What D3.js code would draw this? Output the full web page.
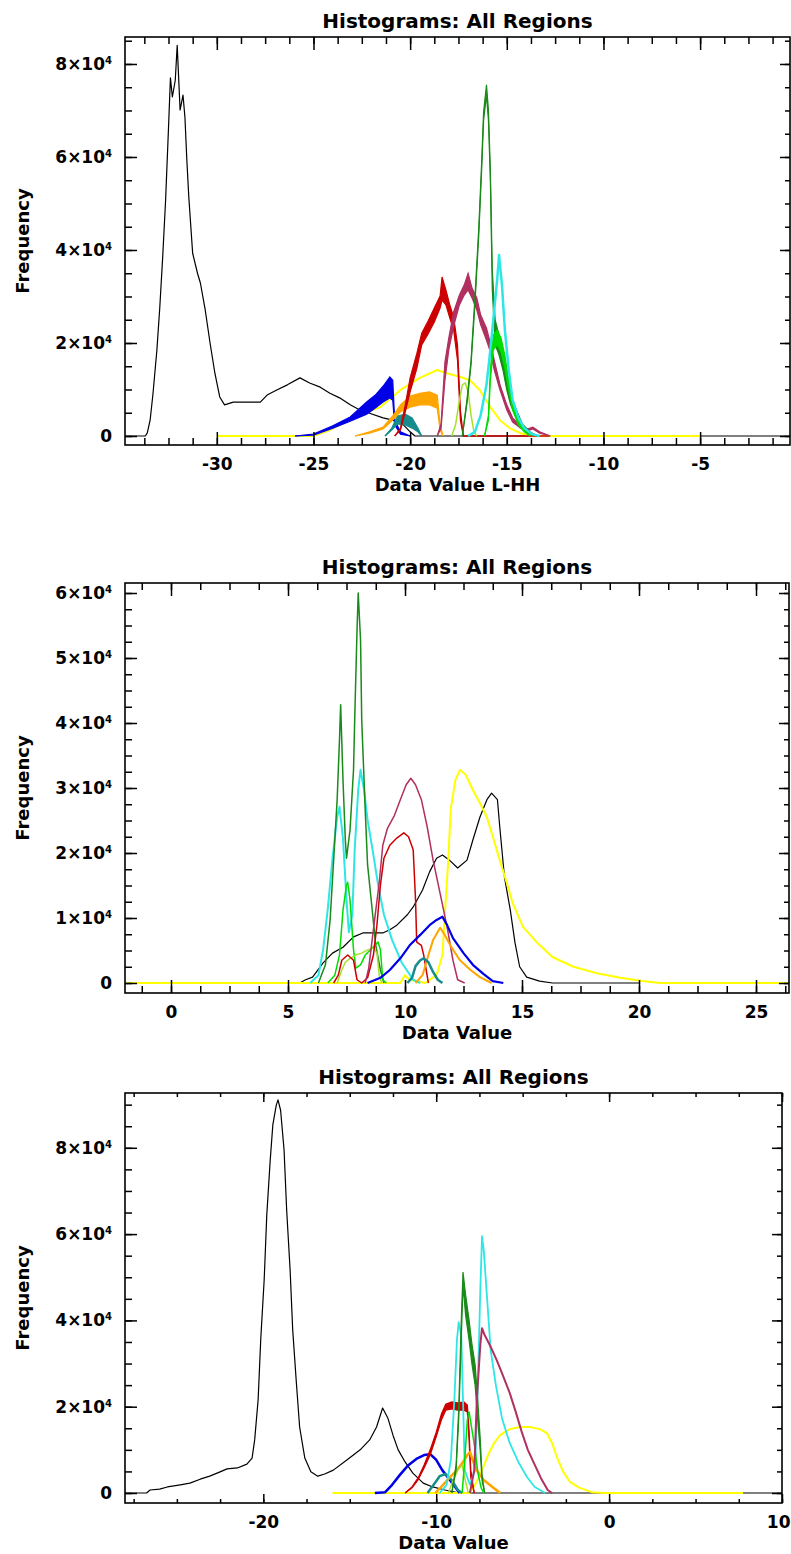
<!DOCTYPE html>
<html>
<head>
<meta charset="utf-8">
<script src="https://cdn.jsdelivr.net/npm/d3@7"></script>
<style>
  body { margin: 0; background: #fff; }
  svg text { font-family: "DejaVu Sans", sans-serif; font-weight: bold; }
</style>
</head>
<body>
<div id="chart"></div>
<script>
// ---------- panel 1 : L-HH ----------
const p1Black = [[-34.75,0],[-33.7,0],[-33.6,600],[-33.45,3400],[-33.3,9200],[-33.1,18500],[-32.95,27700],[-32.8,38500],[-32.65,50700],[-32.5,66200],[-32.4,77000],[-32.3,72900],[-32.15,76500],[-32.05,84000],[-31.9,70100],[-31.75,73300],[-31.65,68600],[-31.55,59300],[-31.45,51400],[-31.25,39300],[-31.0,35000],[-30.85,32900],[-30.6,27100],[-30.35,20000],[-30.1,13500],[-29.85,8400],[-29.6,6700],[-29.15,7300],[-28.3,7300],[-27.75,7300],[-27.4,8800],[-26.9,9900],[-26.35,11000],[-25.7,12500],[-25.2,11400],[-24.65,10500],[-24.15,9200],[-23.65,8200],[-23.1,6700],[-22.6,5600],[-22.1,4900],[-21.4,3900],[-20.9,3400],[-20.35,2400],[-20.0,900],[-19.75,0],[-0.35,0]];
const p1Yellow = [[-30,0],[-25,0],[-24.15,1300],[-23.35,3000],[-22.6,4500],[-21.55,6200],[-20.5,9900],[-19.5,12500],[-18.6,14200],[-18.1,13500],[-17.4,12700],[-16.9,12000],[-16.4,9900],[-15.85,6200],[-15.35,3400],[-14.85,1700],[-14.3,600],[-13.65,0],[-5,0]];
// bands: [x, low, high]
const p1Blue = [[-25.95,0,0],[-25.0,200,400],[-24.0,1700,2200],[-23.1,3200,4100],[-22.25,4700,7300],[-21.8,6000,8800],[-21.4,7300,10700],[-21.05,8200,12700],[-20.9,7700,12000],[-20.8,2400,3400],[-20.5,400,900],[-20.0,0,0]];
const p1Teal = [[-21.3,0,0],[-20.95,1300,1700],[-20.65,2600,4300],[-20.25,2400,4700],[-19.9,1700,3900],[-19.6,900,1700],[-19.4,0,0]];
const p1Orange = [[-22.85,0,0],[-22.1,600,900],[-21.4,1500,1900],[-20.9,3400,4300],[-20.5,5200,6700],[-20.0,6200,8600],[-19.5,6700,9200],[-19.0,6700,9500],[-18.6,6000,8800],[-18.45,1300,2400],[-18.3,0,0]];
const p1Red = [[-20.8,0,0],[-20.5,1300,1700],[-20.25,5200,6700],[-20.0,9500,12500],[-19.65,14600,17800],[-19.4,19600,22100],[-19.05,22100,24900],[-18.75,24500,27500],[-18.45,27500,30100],[-18.35,29200,34200],[-18.15,28200,31400],[-17.95,25400,28200],[-17.75,22800,25600],[-17.55,16300,19600],[-17.4,3400,5600],[-17.25,0,0],[-12.8,0,0]];
const p1Maroon = [[-18.6,0,0],[-18.4,1700,2600],[-18.2,12000,15900],[-18.0,18500,21100],[-17.75,23600,26700],[-17.45,28200,30300],[-17.2,30300,32500],[-17.0,31400,35000],[-16.8,29700,31800],[-16.55,27100,29700],[-16.35,23900,26000],[-16.05,20600,23200],[-15.85,18100,20000],[-15.65,14200,16300],[-15.35,9900,11000],[-15.0,5600,6700],[-14.7,3000,3900],[-14.3,1700,2200],[-13.95,1100,1500],[-13.65,1500,1900],[-13.3,600,900],[-12.75,0,0]];
const p1YellowGreen = [[-17.85,0],[-17.65,2400],[-17.45,7700],[-17.3,11000],[-17.15,11400],[-17.0,9500],[-16.85,4500],[-16.7,900],[-16.55,0]];
const p1DarkGreen = [[-17.3,0,0],[-17.05,7300,8200],[-16.85,15300,16300],[-16.65,28200,29700],[-16.45,43200,44700],[-16.3,57200,58900],[-16.2,67900,69700],[-16.05,73300,75500],[-15.95,67900,70100],[-15.85,55000,57200],[-15.75,31400,35700],[-15.6,19600,24900],[-15.4,17400,21700],[-15.2,14200,17400],[-15.0,9900,12500],[-14.8,6700,8800],[-14.5,3900,5600],[-14.2,1700,2600],[-13.8,400,900],[-13.45,0,0]];
const p1Lime = [[-16.15,0,0],[-15.95,3400,4500],[-15.85,12000,14200],[-15.7,18500,21700],[-15.5,19600,22800],[-15.3,18100,21100],[-15.1,14600,17400],[-14.9,9900,12000],[-14.7,5600,7300],[-14.4,2400,3400],[-14.1,900,1300],[-13.8,0,0]];
const p1Cyan = [[-17.0,0],[-16.65,900],[-16.35,4500],[-16.05,11000],[-15.85,18500],[-15.65,27100],[-15.5,33500],[-15.4,38900],[-15.25,32500],[-15.1,22800],[-14.9,14200],[-14.7,7700],[-14.4,3900],[-14.1,1700],[-13.7,400],[-13.3,0]];

// ---------- panel 2 ----------
const p2Black = [[5.5,0],[5.75,500],[6.05,900],[6.5,3100],[6.9,4600],[7.35,5500],[7.8,7100],[8.2,7700],[9.05,7700],[9.35,8200],[9.65,8900],[10.1,10500],[10.35,11700],[10.75,14300],[11.05,17100],[11.35,19200],[11.6,19700],[11.9,18900],[12.25,17700],[12.65,18900],[12.9,22000],[13.2,25500],[13.5,28200],[13.7,29200],[13.95,28200],[14.05,24000],[14.25,16300],[14.5,11200],[14.7,6200],[14.9,2500],[15.2,900],[15.75,300],[16.3,0],[20.05,0]];
const p2Yellow = [[-1.97,0],[9.8,0],[10.0,1200],[10.2,500],[10.85,0],[11.35,1200],[11.6,4300],[11.7,10500],[11.85,18900],[11.95,26600],[12.15,31200],[12.35,32800],[12.6,32000],[12.9,29700],[13.2,27700],[13.5,25500],[13.75,22500],[14.05,18900],[14.35,15400],[14.6,12300],[15.05,8600],[15.65,6200],[16.3,4000],[17.2,2500],[18.2,1500],[19.2,800],[20.15,300],[20.9,0],[26.41,0]];
const p2Cyan = [[5.95,0],[6.3,1200],[6.5,5100],[6.7,11400],[6.9,19100],[7.1,25500],[7.2,27100],[7.35,22200],[7.5,12800],[7.6,7800],[7.75,10500],[7.85,20500],[8.0,29700],[8.1,32800],[8.25,29700],[8.4,25100],[8.65,19700],[8.85,15100],[9.1,10500],[9.45,6600],[9.85,3200],[10.35,500],[10.65,0]];
const p2DarkGreen = [[6.3,0],[6.6,2800],[6.8,9700],[6.95,18900],[7.1,28200],[7.2,37400],[7.25,42800],[7.35,31200],[7.45,22000],[7.5,19200],[7.65,23500],[7.8,32800],[7.85,40500],[7.95,54300],[8.0,60000],[8.1,52800],[8.15,40500],[8.3,26600],[8.4,18200],[8.6,11200],[8.75,5800],[8.95,2000],[9.1,0]];
const p2Lime = [[6.7,0],[7.0,1200],[7.2,4300],[7.35,11200],[7.5,15100],[7.55,15500],[7.65,12800],[7.8,5100],[7.9,2300],[8.1,2800],[8.3,4300],[8.6,5400],[8.85,6300],[8.95,5100],[9.05,500],[9.2,0]];
const p2YellowGreen = [[7.1,0],[7.3,2000],[7.45,3200],[7.65,3800],[7.9,4300],[8.15,4600],[8.4,5100],[8.65,5400],[8.8,4600],[8.9,1200],[9.0,0]];
const p2Red = [[6.95,0],[7.15,1200],[7.3,3500],[7.55,4300],[7.8,3500],[7.95,500],[8.15,0],[8.4,800],[8.65,4300],[8.8,8900],[8.95,15100],[9.1,19200],[9.35,21200],[9.65,22300],[9.95,23100],[10.15,22500],[10.35,20500],[10.45,12800],[10.5,6300],[10.7,5800],[10.8,4300],[11.0,0]];
const p2Maroon = [[8.3,0],[8.45,2300],[8.7,9700],[8.9,15500],[9.05,21200],[9.25,23800],[9.55,25800],[9.8,28200],[10.05,30500],[10.25,31500],[10.45,30500],[10.7,28200],[10.95,24000],[11.2,18900],[11.5,13800],[11.8,8600],[12.05,3500],[12.25,500],[12.55,0]];
const p2Blue = [[8.4,0],[8.95,800],[9.35,2000],[9.8,3800],[10.2,5800],[10.65,7400],[11.05,8900],[11.35,9700],[11.6,10200],[11.8,8900],[12.05,6900],[12.5,4600],[12.9,2800],[13.35,1400],[13.75,300],[14.2,0]];
const p2Orange = [[10.45,0],[10.75,1200],[11.0,4300],[11.2,6600],[11.5,8500],[11.7,7400],[12.0,5400],[12.35,3500],[12.8,2000],[13.2,900],[13.7,0]];
const p2Teal = [[10.1,0],[10.3,800],[10.45,2600],[10.65,3500],[10.8,3800],[11.0,3200],[11.2,1700],[11.4,500],[11.6,0]];

// ---------- panel 3 ----------
const p3Black = [[-28,0],[-26.75,0],[-26.55,700],[-26.0,900],[-25.55,1400],[-24.8,1900],[-24.25,2300],[-23.65,3200],[-23.1,3900],[-22.5,4900],[-22.1,5600],[-21.5,5800],[-20.95,6700],[-20.65,8100],[-20.5,12300],[-20.3,21600],[-20.15,35500],[-19.95,49400],[-19.8,64400],[-19.6,77200],[-19.45,85300],[-19.25,89900],[-19.15,91100],[-19.0,88700],[-18.8,79500],[-18.65,65600],[-18.45,51700],[-18.3,37800],[-18.1,26200],[-17.9,15300],[-17.6,8100],[-17.25,4900],[-16.85,3900],[-16.45,4400],[-15.95,5300],[-15.15,7700],[-14.4,10000],[-13.85,12300],[-13.45,15300],[-13.1,19700],[-12.8,17400],[-12.5,13400],[-12.2,10000],[-11.8,7200],[-11.35,4600],[-10.75,2300],[-10.2,1400],[-9.5,700],[-8.65,0],[10,0]];
const p3Yellow = [[-16,0],[-8.05,0],[-7.7,2300],[-7.35,5300],[-7.0,8800],[-6.65,11600],[-6.3,13400],[-5.75,14800],[-5.15,15300],[-4.6,15300],[-4.0,14800],[-3.6,13900],[-3.3,11600],[-3.0,8100],[-2.65,4900],[-2.25,2500],[-1.7,1200],[-1.0,200],[-0.25,0],[7.75,0]];
const p3Blue = [[-13.55,0],[-12.95,200],[-12.55,1900],[-12.1,4200],[-11.65,6300],[-11.15,7900],[-10.7,8800],[-10.35,9000],[-10.0,7700],[-9.65,5300],[-9.3,3500],[-8.95,1600],[-8.65,0]];
const p3Red = [[-11.8,0,0],[-11.4,1200,1400],[-11.05,3000,3500],[-10.7,5800,6500],[-10.35,8800,10000],[-10.0,13000,14100],[-9.7,16900,18300],[-9.45,19200,20600],[-9.1,19500,21100],[-8.75,19200,20900],[-8.4,19200,21100],[-8.2,18800,20400],[-8.1,12300,14600],[-8.0,3500,5300],[-7.8,0,0]];
const p3Teal = [[-10.5,0],[-10.15,1900],[-9.8,3900],[-9.45,4400],[-9.1,3000],[-8.75,700],[-8.5,0]];
const p3Orange = [[-10.05,0],[-9.6,1900],[-9.2,3700],[-8.8,5300],[-8.45,7200],[-8.2,8800],[-8.05,9500],[-7.85,7200],[-7.6,4900],[-7.25,3000],[-6.75,1400],[-6.3,0]];
const p3YellowGreen = [[-9.3,0],[-9.05,2600],[-8.75,5300],[-8.5,6500],[-8.35,3500],[-8.15,0]];
const p3Cyan = [[-9.8,0],[-9.4,1900],[-9.15,7700],[-8.95,21600],[-8.8,35500],[-8.7,39600],[-8.55,36600],[-8.45,21600],[-8.35,5300],[-8.05,1900],[-7.75,5300],[-7.6,23900],[-7.45,47000],[-7.35,59500],[-7.25,56300],[-7.05,44700],[-6.85,33100],[-6.55,25000],[-6.2,17400],[-5.75,11600],[-5.25,7200],[-4.75,3700],[-4.3,1400],[-3.7,0]];
const p3DarkGreen = [[-9.1,0,0],[-8.85,5300,6500],[-8.7,16900,19200],[-8.55,35500,40100],[-8.45,48200,51200],[-8.3,41200,45900],[-8.1,35500,40100],[-7.95,30400,35000],[-7.75,25000,29700],[-7.6,16900,21600],[-7.45,9500,12300],[-7.35,3000,4200],[-7.2,0,0]];
const p3Lime = [[-8.5,0],[-8.35,7700],[-8.2,16900],[-8.1,18800],[-7.95,15100],[-7.75,10000],[-7.6,4900],[-7.4,1200],[-7.25,0]];
const p3Maroon = [[-8.05,0],[-7.8,5300],[-7.65,21600],[-7.45,34300],[-7.35,38200],[-7.2,36600],[-6.9,34300],[-6.5,30800],[-6.15,27300],[-5.75,23200],[-5.4,18800],[-5.05,14100],[-4.7,10000],[-4.3,6500],[-3.95,3500],[-3.55,700],[-3.3,0]];

// tick values
const p1XTicks = [-30, -25, -20, -15, -10, -5];
const p1YTicks = [0, 20000, 40000, 60000, 80000];
const p2XTicks = [0, 5, 10, 15, 20, 25];
const p2YTicks = [0, 10000, 20000, 30000, 40000, 50000, 60000];
const p3XTicks = [-20, -10, 0, 10];
const p3YTicks = [0, 20000, 40000, 60000, 80000];

const colors = {
  black: "#000000", yellow: "#ffff00", blue: "#0000e6", teal: "#168c8c",
  orange: "#ffa500", red: "#cc0000", maroon: "#b03060", yellowGreen: "#a8e02a",
  darkGreen: "#1a8a1a", lime: "#00dd00", cyan: "#2ee6e6"
};

const panels = [
  {
    box: { left: 125, top: 37, right: 790, bottom: 445 },
    xDomain: [-34.75, -0.35], yDomain: [-1935, 85800],
    xTicks: p1XTicks, xMinor: 1.25, yTicks: p1YTicks, yMinor: 5000,
    xTickLen: [13, 7], xLabel: "Data Value L-HH",
    series: [
      { data: p1Black, color: colors.black, w: 1.2 },
      { data: p1Yellow, color: colors.yellow, w: 2 },
      { data: p1Blue, color: colors.blue, band: true },
      { data: p1Teal, color: colors.teal, band: true },
      { data: p1Orange, color: colors.orange, band: true },
      { data: p1Red, color: colors.red, band: true },
      { data: p1Maroon, color: colors.maroon, band: true },
      { data: p1YellowGreen, color: colors.yellowGreen, w: 1.5 },
      { data: p1DarkGreen, color: colors.darkGreen, band: true },
      { data: p1Lime, color: colors.lime, band: true },
      { data: p1Cyan, color: colors.cyan, w: 2.5 }
    ]
  },
  {
    box: { left: 125, top: 583, right: 789, bottom: 993 },
    xDomain: [-1.966, 26.41], yDomain: [-1538, 61538],
    xTicks: p2XTicks, xMinor: 1.25, yTicks: p2YTicks, yMinor: 2500,
    xTickLen: [13, 7], xLabel: "Data Value",
    series: [
      { data: p2Black, color: colors.black, w: 1.2 },
      { data: p2Yellow, color: colors.yellow, w: 2 },
      { data: p2Cyan, color: colors.cyan, w: 2 },
      { data: p2DarkGreen, color: colors.darkGreen, w: 1.5 },
      { data: p2Lime, color: colors.lime, w: 1.5 },
      { data: p2YellowGreen, color: colors.yellowGreen, w: 1.5 },
      { data: p2Red, color: colors.red, w: 1.5 },
      { data: p2Maroon, color: colors.maroon, w: 1.5 },
      { data: p2Blue, color: colors.blue, w: 2.2 },
      { data: p2Orange, color: colors.orange, w: 2 },
      { data: p2Teal, color: colors.teal, w: 2.5 }
    ]
  },
  {
    box: { left: 125, top: 1093, right: 782, bottom: 1503 },
    xDomain: [-28, 10], yDomain: [-2318, 92700],
    xTicks: p3XTicks, xMinor: 2.5, yTicks: p3YTicks, yMinor: 5000,
    xTickLen: [9, 4], xLabel: "Data Value",
    series: [
      { data: p3Black, color: colors.black, w: 1.2 },
      { data: p3Yellow, color: colors.yellow, w: 2 },
      { data: p3Blue, color: colors.blue, w: 2.5 },
      { data: p3Red, color: colors.red, band: true },
      { data: p3Teal, color: colors.teal, w: 2.5 },
      { data: p3Orange, color: colors.orange, w: 2.5 },
      { data: p3YellowGreen, color: colors.yellowGreen, w: 1.5 },
      { data: p3Cyan, color: colors.cyan, w: 1.8 },
      { data: p3DarkGreen, color: colors.darkGreen, band: true },
      { data: p3Lime, color: colors.lime, w: 1.5 },
      { data: p3Maroon, color: colors.maroon, w: 2 }
    ]
  }
];

const svg = d3.select("#chart")
  .append("svg")
  .attr("width", 791)
  .attr("height", 1554)
  .style("display", "block");

svg.append("rect").attr("width", 791).attr("height", 1554).attr("fill", "#fff");

function minorTicks(domain, step) {
  const out = [];
  const start = Math.ceil(domain[0] / step) * step;
  for (let v = start; v <= domain[1] + 1e-9; v += step) out.push(+v.toFixed(6));
  return out;
}

panels.forEach((p, i) => {
  const b = p.box;
  const x = d3.scaleLinear().domain(p.xDomain).range([b.left, b.right]);
  const y = d3.scaleLinear().domain(p.yDomain).range([b.bottom, b.top]);
  const g = svg.append("g");

  g.append("clipPath").attr("id", "clip" + i)
    .append("rect")
    .attr("x", b.left).attr("y", b.top)
    .attr("width", b.right - b.left).attr("height", b.bottom - b.top);

  const plot = g.append("g").attr("clip-path", `url(#clip${i})`);

  const line = d3.line().x(d => x(d[0])).y(d => y(d[1]));
  const area = d3.area().x(d => x(d[0])).y0(d => y(d[1])).y1(d => y(d[2]));
  const hiLine = d3.line().x(d => x(d[0])).y(d => y(d[2]));

  p.series.forEach(s => {
    if (s.band) {
      plot.append("path").attr("d", area(s.data)).attr("fill", s.color);
      plot.append("path").attr("d", line(s.data)).attr("fill", "none")
        .attr("stroke", s.color).attr("stroke-width", 1.2);
      plot.append("path").attr("d", hiLine(s.data)).attr("fill", "none")
        .attr("stroke", s.color).attr("stroke-width", 1.2);
    } else {
      plot.append("path").attr("d", line(s.data)).attr("fill", "none")
        .attr("stroke", s.color).attr("stroke-width", s.w)
        .attr("stroke-linejoin", "round");
    }
  });

  // frame
  g.append("rect")
    .attr("x", b.left).attr("y", b.top)
    .attr("width", b.right - b.left).attr("height", b.bottom - b.top)
    .attr("fill", "none").attr("stroke", "#000").attr("stroke-width", 1.6);

  const xMin = minorTicks(p.xDomain, p.xMinor);
  const yMin = minorTicks(p.yDomain, p.yMinor);
  const styleAxis = sel => {
    sel.select(".domain").remove();
    sel.selectAll(".tick line").attr("stroke-width", 1.5);
    sel.attr("font-family", null).attr("font-size", 17);
  };

  // bottom
  g.append("g").attr("transform", `translate(0,${b.bottom})`)
    .call(d3.axisBottom(x).tickValues(xMin).tickSize(-p.xTickLen[1]).tickFormat(""))
    .call(styleAxis);
  const xAx = g.append("g").attr("transform", `translate(0,${b.bottom})`)
    .call(d3.axisBottom(x).tickValues(p.xTicks).tickSize(-p.xTickLen[0]).tickPadding(13)
      .tickFormat(d => String(d)))
    .call(styleAxis);
  // keep a label that sits on the page edge inside the page
  xAx.selectAll(".tick text").each(function (d) {
    const half = this.getComputedTextLength() / 2;
    const over = x(d) + half - 790;
    if (over > 0) d3.select(this).attr("dx", -over);
  });
  // top
  g.append("g").attr("transform", `translate(0,${b.top})`)
    .call(d3.axisTop(x).tickValues(xMin).tickSize(-p.xTickLen[1]).tickFormat(""))
    .call(styleAxis);
  g.append("g").attr("transform", `translate(0,${b.top})`)
    .call(d3.axisTop(x).tickValues(p.xTicks).tickSize(-p.xTickLen[0]).tickFormat(""))
    .call(styleAxis);
  // left
  g.append("g").attr("transform", `translate(${b.left},0)`)
    .call(d3.axisLeft(y).tickValues(yMin).tickSize(-7).tickFormat(""))
    .call(styleAxis);
  const yAx = g.append("g").attr("transform", `translate(${b.left},0)`)
    .call(d3.axisLeft(y).tickValues(p.yTicks).tickSize(-12).tickPadding(13))
    .call(styleAxis);
  yAx.selectAll(".tick text").each(function (d) {
    const t = d3.select(this).text("");
    if (d === 0) { t.text("0"); return; }
    t.append("tspan").text((d / 1e4) + "×10");
    t.append("tspan").attr("dy", "-0.6em").attr("font-size", 10).text("4");
  });
  // right
  g.append("g").attr("transform", `translate(${b.right},0)`)
    .call(d3.axisRight(y).tickValues(yMin).tickSize(-5).tickFormat(""))
    .call(styleAxis);
  g.append("g").attr("transform", `translate(${b.right},0)`)
    .call(d3.axisRight(y).tickValues(p.yTicks).tickSize(-10).tickFormat(""))
    .call(styleAxis);

  // titles
  const cx = (b.left + b.right) / 2;
  g.append("text").attr("x", cx).attr("y", b.top - 9)
    .attr("text-anchor", "middle").attr("font-size", 20)
    .text("Histograms: All Regions");
  g.append("text").attr("x", cx).attr("y", b.bottom + 46)
    .attr("text-anchor", "middle").attr("font-size", 18)
    .text(p.xLabel);
  g.append("text")
    .attr("transform", `translate(29,${(b.top + b.bottom) / 2}) rotate(-90)`)
    .attr("text-anchor", "middle").attr("font-size", 18)
    .text("Frequency");
});
</script>
</body>
</html>
